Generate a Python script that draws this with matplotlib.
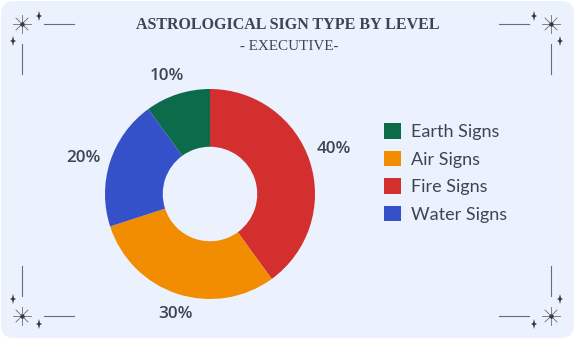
import numpy as np
import matplotlib.pyplot as plt
from matplotlib.patches import FancyBboxPatch, Polygon, Patch

# data
labels = ["Earth Signs", "Air Signs", "Fire Signs", "Water Signs"]
values = [10, 30, 40, 20]
colors = ["#0b6b4b", "#f28c00", "#d32f2f", "#3551c9"]
# drawing order around the ring (clockwise from top)
ring_order = ["Fire Signs", "Air Signs", "Water Signs", "Earth Signs"]

W, H = 575, 339
text_col = "#3f4451"
deco_col = "#6a6d75"

fig = plt.figure(figsize=(W / 100, H / 100), dpi=100)
fig.patch.set_facecolor("white")

# background / decorations layer in pixel coords
bg = fig.add_axes([0, 0, 1, 1], zorder=0)
bg.set_xlim(0, W)
bg.set_ylim(H, 0)
bg.axis("off")
bg.add_patch(FancyBboxPatch((1, 1), W - 2, H - 2,
                            boxstyle="round,pad=0,rounding_size=13",
                            fc="#ebf1fd", ec="none"))


def star8(x, y):
    # long horizontal / vertical arms, shorter diagonals
    bg.plot([x - 9, x + 9], [y, y], color=deco_col, lw=0.6)
    bg.plot([x, x], [y - 9, y + 9], color=deco_col, lw=0.6)
    bg.plot([x - 6, x + 6], [y - 6, y + 6], color=deco_col, lw=0.6)
    bg.plot([x - 6, x + 6], [y + 6, y - 6], color=deco_col, lw=0.6)
    bg.plot([x], [y], "o", ms=2.2, color="#3a3c44")


def sparkle(x, y):
    pts = [(x, y - 5), (x + 1, y - 1), (x + 3, y), (x + 1, y + 1),
           (x, y + 5), (x - 1, y + 1), (x - 3, y), (x - 1, y - 1)]
    bg.add_patch(Polygon(pts, closed=True, fc="#33353d", ec="none"))


def corner(x, y, sx, sy):
    # sx, sy: direction of the arms away from the corner
    star8(x, y)
    bg.plot([x + sx * 22, x + sx * 52], [y, y], color=deco_col, lw=0.8)
    bg.plot([x, x], [y + sy * 20, y + sy * 50], color=deco_col, lw=0.8)
    sparkle(x + sx * 17, y - sy * 8)
    sparkle(x - sx * 9, y + sy * 17)


corner(22, 24, 1, 1)
corner(551, 24, -1, 1)
corner(22, 316, 1, -1)
corner(551, 316, -1, -1)

# title
fig.text(288 / W, 1 - 25 / H, "ASTROLOGICAL SIGN TYPE BY LEVEL", ha="center",
         va="center", fontsize=11.5, fontweight="bold", family="Liberation Serif",
         color=text_col)
fig.text(289 / W, 1 - 46 / H, "- EXECUTIVE-", ha="center", va="center",
         fontsize=10.9, family="Liberation Serif", color=text_col)

# donut
cx, cy, R = 210, 194, 105
lim = 1.35
half = lim * R
ax = fig.add_axes([(cx - half) / W, (H - cy - half) / H, 2 * half / W, 2 * half / H],
                  zorder=1)

vals = [values[labels.index(n)] for n in ring_order]
cols = [colors[labels.index(n)] for n in ring_order]
wedges, _ = ax.pie(vals, colors=cols, startangle=90, counterclock=False, radius=1,
                   wedgeprops=dict(width=0.55, edgecolor="none"))
ax.set_xlim(-lim, lim)
ax.set_ylim(-lim, lim)
ax.axis("off")

# labels placed just outside the ring, pushed out by their own box size
hw, hh, off = 17 / R, 7 / R, 8 / R
for w, v in zip(wedges, vals):
    a = np.deg2rad((w.theta1 + w.theta2) / 2 + 2)
    r = 1 + off + hw * abs(np.cos(a)) + hh * abs(np.sin(a))
    ax.text(r * np.cos(a), r * np.sin(a), f"{v}%", ha="center", va="center",
            fontsize=12.3, fontweight="semibold", family="Open Sans", color=text_col)

# legend
handles = [Patch(fc=c, ec="none") for c in colors]
fig.legend(handles, labels, loc="upper left",
           bbox_to_anchor=(368 / W, 1 - 107 / H), frameon=False,
           prop=dict(family="Lato", size=13),
           labelcolor=text_col, handlelength=0.94, handleheight=0.94,
           handletextpad=0.55, labelspacing=0.59)

fig.savefig("out.png", dpi=100, facecolor="white")
